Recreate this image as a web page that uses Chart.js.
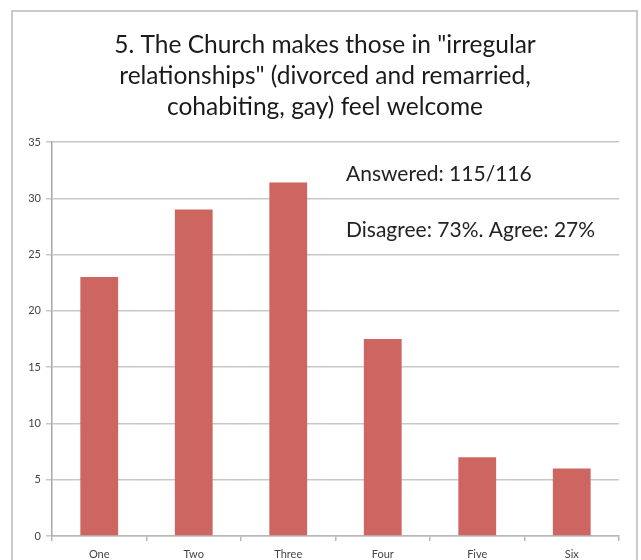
<!DOCTYPE html>
<html lang="en">
  <head>
    <meta charset="UTF-8" />
    <title>Church survey question 5</title>
    <style>
      body {
        margin: 0;
        background: #ffffff;
      }
      #chart {
        display: block;
      }
    </style>
  </head>
  <body>
    <canvas id="chart" width="641" height="560"></canvas>

    <script src="https://cdn.jsdelivr.net/npm/chart.js@4.4.0/dist/chart.umd.min.js"></script>
    <script>
      // Data
      const categories = ["One", "Two", "Three", "Four", "Five", "Six"];
      const responses = [23, 29, 31.4, 17.5, 7, 6];
      const yTicks = [0, 5, 10, 15, 20, 25, 30, 35];

      const titleLines = [
        '5. The Church makes those in "irregular',
        'relationships" (divorced and remarried,',
        "cohabiting, gay) feel welcome",
      ];
      const notes = ["Answered: 115/116", "Disagree: 73%. Agree: 27%"];

      const textFont = "Lato, 'Open Sans', sans-serif";

      // Frame, title and the two text notes
      const decorations = {
        id: "decorations",
        beforeDraw(chart) {
          const ctx = chart.ctx;
          ctx.save();
          ctx.fillStyle = "#ffffff";
          ctx.fillRect(0, 0, chart.width, chart.height);
          ctx.strokeStyle = "#cacaca";
          ctx.lineWidth = 2;
          ctx.strokeRect(12, 11, 625, 600);
          ctx.restore();
        },
        afterDraw(chart) {
          const ctx = chart.ctx;
          ctx.save();
          ctx.fillStyle = "#1a1a1a";
          ctx.textAlign = "center";
          ctx.textBaseline = "middle";
          ctx.font = "24.5px " + textFont;
          titleLines.forEach((line, i) => {
            ctx.fillText(line, 325, 45 + i * 31);
          });

          ctx.textAlign = "left";
          ctx.font = "21px " + textFont;
          ctx.fillStyle = "#222222";
          ctx.fillText(notes[0], 346, 174);
          ctx.fillText(notes[1], 346, 230);
          ctx.restore();
        },
      };

      new Chart(document.getElementById("chart"), {
        type: "bar",
        data: {
          labels: categories,
          datasets: [
            {
              data: responses,
              backgroundColor: "#cd6660",
              borderWidth: 0,
              categoryPercentage: 0.4,
              barPercentage: 1.0,
            },
          ],
        },
        options: {
          responsive: false,
          animation: false,
          devicePixelRatio: 1,
          layout: {
            padding: { top: 142, left: 12, right: 22, bottom: 0 },
          },
          plugins: {
            legend: { display: false },
            title: { display: false },
            tooltip: { enabled: false },
          },
          scales: {
            x: {
              afterFit: (scale) => {
                scale.height = 24;
              },
              grid: {
                offset: true,
                drawOnChartArea: false,
                drawTicks: true,
                tickLength: 5,
                color: "#b8b8b8",
                lineWidth: 1.5,
              },
              border: { color: "#b8b8b8", width: 1.5 },
              ticks: {
                color: "#444444",
                font: { family: textFont, size: 11 },
                padding: 7,
              },
            },
            y: {
              min: 0,
              max: 35,
              afterFit: (scale) => {
                scale.width = 40;
              },
              afterBuildTicks: (scale) => {
                scale.ticks = yTicks.map((v) => ({ value: v }));
              },
              grid: {
                color: "#c8c8c8",
                lineWidth: 1.5,
                tickLength: 6,
              },
              border: { color: "#a8a8a8", width: 1.5 },
              ticks: {
                color: "#444444",
                font: { family: textFont, size: 11 },
                padding: 5,
              },
            },
          },
        },
        plugins: [decorations],
      });
    </script>
  </body>
</html>
